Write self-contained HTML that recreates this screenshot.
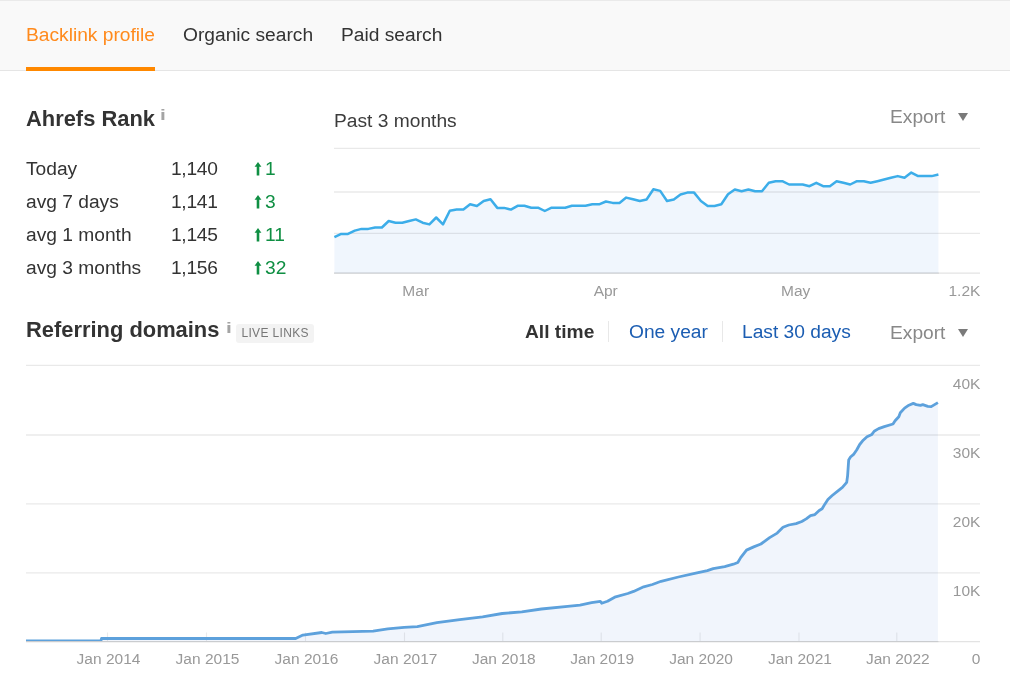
<!DOCTYPE html>
<html><head><meta charset="utf-8"><title>Overview</title>
<style>
html,body{margin:0;padding:0;background:#fff;}
body{width:1010px;height:691px;position:relative;overflow:hidden;font-family:"Liberation Sans",Arial,sans-serif;color:#333;}
.hdr{position:absolute;left:0;top:0;width:1010px;height:71px;background:#f9f9f9;border-top:1px solid #eaeaea;border-bottom:1px solid #e5e5e5;box-sizing:border-box;}
.tab{position:absolute;top:24px;font-size:19.2px;line-height:22px;color:#333;white-space:nowrap;}
.tab.on{color:#ff8a1c;}
.bar{position:absolute;left:26px;top:67px;width:129px;height:4px;background:#ff8800;}
.h{position:absolute;font-weight:bold;font-size:21.9px;line-height:26px;color:#333;white-space:nowrap;}
.i{position:absolute;font-weight:bold;font-size:15.5px;line-height:16px;color:#a4a4a4;transform:scaleX(1.35);transform-origin:0 0;}
.row{position:absolute;left:26px;font-size:19.2px;line-height:22px;color:#333;white-space:nowrap;}
.row span{position:absolute;top:0;}
.g{color:#0f8f43;}
.ar{position:absolute;left:228px;top:4px;width:8px;height:14px;}
.lbl{position:absolute;font-size:19.2px;line-height:22px;color:#3c3c3c;white-space:nowrap;}
.exp{position:absolute;font-size:19.2px;line-height:22px;color:#888;white-space:nowrap;}
.tri{position:absolute;width:0;height:0;border-left:5.4px solid transparent;border-right:5.4px solid transparent;border-top:8px solid #7a7a7a;}
.badge{position:absolute;left:236px;top:324px;width:78px;height:19px;background:#f3f3f3;border-radius:3px;font-size:12px;line-height:19px;color:#777;text-align:center;letter-spacing:0.35px;text-indent:0.35px;}
.rng{position:absolute;top:321px;font-size:19.2px;line-height:22px;white-space:nowrap;}
.sep{position:absolute;top:321px;width:1.2px;height:21px;background:#e8e8e8;}
svg{position:absolute;left:0;top:0;}
svg text{font-family:"Liberation Sans",Arial,sans-serif;font-size:15.5px;fill:#999;}
</style></head><body>
<div class="hdr"></div>
<div class="tab on" style="left:26px">Backlink profile</div>
<div class="tab" style="left:183px">Organic search</div>
<div class="tab" style="left:341px">Paid search</div>
<div class="bar"></div>

<div class="h" style="left:26px;top:106px">Ahrefs Rank</div>
<div class="i" style="left:160px;top:107px">i</div>
<div class="row" style="top:158px"><span style="left:0">Today</span><span style="left:145px;letter-spacing:-0.3px">1,140</span><svg class="ar" viewBox="0 0 8 14" style="position:absolute"><path d="M4,0 L7.4,4.8 L5.3,4.8 L5.3,13.6 L2.7,13.6 L2.7,4.8 L0.6,4.8 Z" fill="#0f8f43"/></svg><span class="g" style="left:239px">1</span></div>
<div class="row" style="top:191px"><span style="left:0">avg 7 days</span><span style="left:145px;letter-spacing:-0.3px">1,141</span><svg class="ar" viewBox="0 0 8 14" style="position:absolute"><path d="M4,0 L7.4,4.8 L5.3,4.8 L5.3,13.6 L2.7,13.6 L2.7,4.8 L0.6,4.8 Z" fill="#0f8f43"/></svg><span class="g" style="left:239px">3</span></div>
<div class="row" style="top:224px"><span style="left:0">avg 1 month</span><span style="left:145px;letter-spacing:-0.3px">1,145</span><svg class="ar" viewBox="0 0 8 14" style="position:absolute"><path d="M4,0 L7.4,4.8 L5.3,4.8 L5.3,13.6 L2.7,13.6 L2.7,4.8 L0.6,4.8 Z" fill="#0f8f43"/></svg><span class="g" style="left:239px">11</span></div>
<div class="row" style="top:257px"><span style="left:0">avg 3 months</span><span style="left:145px;letter-spacing:-0.3px">1,156</span><svg class="ar" viewBox="0 0 8 14" style="position:absolute"><path d="M4,0 L7.4,4.8 L5.3,4.8 L5.3,13.6 L2.7,13.6 L2.7,4.8 L0.6,4.8 Z" fill="#0f8f43"/></svg><span class="g" style="left:239px">32</span></div>

<div class="lbl" style="left:334px;top:110px">Past 3 months</div>
<div class="exp" style="left:890px;top:106px">Export</div>
<div class="tri" style="left:958.2px;top:113px"></div>

<div class="h" style="left:26px;top:317px">Referring domains</div>
<div class="i" style="left:225.5px;top:320px">i</div>
<div class="badge">LIVE LINKS</div>
<div class="rng" style="left:525px;font-weight:bold;color:#333">All time</div>
<div class="sep" style="left:607.8px"></div>
<div class="rng" style="left:629px;color:#1b5db2">One year</div>
<div class="sep" style="left:721.6px"></div>
<div class="rng" style="left:742px;color:#1b5db2">Last 30 days</div>
<div class="exp" style="left:890px;top:322px">Export</div>
<div class="tri" style="left:958.2px;top:329px"></div>

<svg width="1010" height="691" viewBox="0 0 1010 691">
<path d="M334.4,237.1 L341.2,233.9 L348.0,233.9 L354.8,230.6 L361.5,228.9 L368.3,228.9 L375.1,227.5 L381.9,227.5 L388.7,221.0 L395.5,222.7 L402.3,222.7 L409.1,221.0 L415.8,219.4 L422.6,222.7 L429.4,224.4 L436.2,217.5 L443.0,224.4 L449.8,210.8 L456.6,209.6 L463.4,209.6 L470.1,204.3 L476.9,206.0 L483.7,201.0 L490.5,199.3 L497.3,207.9 L504.1,207.9 L510.9,209.6 L517.6,205.8 L524.4,205.8 L531.2,207.7 L538.0,207.7 L544.8,211.0 L551.6,207.7 L558.4,207.7 L565.2,207.7 L571.9,205.8 L578.7,205.8 L585.5,205.8 L592.3,204.3 L599.1,204.3 L605.9,201.5 L612.7,202.9 L619.5,202.9 L626.2,197.6 L633.0,199.3 L639.8,201.0 L646.6,199.5 L653.4,189.3 L660.2,190.9 L667.0,201.0 L673.8,199.5 L680.5,194.5 L687.3,192.6 L694.1,192.6 L700.9,201.0 L707.7,206.0 L714.5,206.0 L721.3,204.3 L728.0,194.3 L734.8,189.5 L741.6,191.2 L748.4,189.5 L755.2,191.2 L762.0,191.2 L768.8,182.8 L775.6,181.2 L782.3,181.2 L789.1,184.5 L795.9,184.5 L802.7,184.5 L809.5,186.2 L816.3,182.8 L823.1,186.2 L829.9,186.2 L836.6,181.2 L843.4,182.8 L850.2,184.5 L857.0,181.2 L863.8,181.2 L870.6,182.8 L877.4,181.2 L884.1,179.5 L890.9,177.8 L897.7,176.1 L904.5,177.8 L911.3,172.6 L918.1,176.1 L924.9,176.1 L931.7,176.1 L938.4,174.5 L938.4,273.2 L334.4,273.2 Z" fill="#f0f6fd"/>
<g stroke="#000" stroke-opacity="0.085" stroke-width="1.3">
<line x1="334" y1="148.3" x2="980" y2="148.3"/>
<line x1="334" y1="192" x2="980" y2="192"/>
<line x1="334" y1="233.4" x2="980" y2="233.4"/>
<line x1="334" y1="273.2" x2="980" y2="273.2" stroke-opacity="0.11"/>
<line x1="334" y1="273.2" x2="939" y2="273.2" stroke-opacity="0.08"/>
</g>
<path d="M334.4,237.1 L341.2,233.9 L348.0,233.9 L354.8,230.6 L361.5,228.9 L368.3,228.9 L375.1,227.5 L381.9,227.5 L388.7,221.0 L395.5,222.7 L402.3,222.7 L409.1,221.0 L415.8,219.4 L422.6,222.7 L429.4,224.4 L436.2,217.5 L443.0,224.4 L449.8,210.8 L456.6,209.6 L463.4,209.6 L470.1,204.3 L476.9,206.0 L483.7,201.0 L490.5,199.3 L497.3,207.9 L504.1,207.9 L510.9,209.6 L517.6,205.8 L524.4,205.8 L531.2,207.7 L538.0,207.7 L544.8,211.0 L551.6,207.7 L558.4,207.7 L565.2,207.7 L571.9,205.8 L578.7,205.8 L585.5,205.8 L592.3,204.3 L599.1,204.3 L605.9,201.5 L612.7,202.9 L619.5,202.9 L626.2,197.6 L633.0,199.3 L639.8,201.0 L646.6,199.5 L653.4,189.3 L660.2,190.9 L667.0,201.0 L673.8,199.5 L680.5,194.5 L687.3,192.6 L694.1,192.6 L700.9,201.0 L707.7,206.0 L714.5,206.0 L721.3,204.3 L728.0,194.3 L734.8,189.5 L741.6,191.2 L748.4,189.5 L755.2,191.2 L762.0,191.2 L768.8,182.8 L775.6,181.2 L782.3,181.2 L789.1,184.5 L795.9,184.5 L802.7,184.5 L809.5,186.2 L816.3,182.8 L823.1,186.2 L829.9,186.2 L836.6,181.2 L843.4,182.8 L850.2,184.5 L857.0,181.2 L863.8,181.2 L870.6,182.8 L877.4,181.2 L884.1,179.5 L890.9,177.8 L897.7,176.1 L904.5,177.8 L911.3,172.6 L918.1,176.1 L924.9,176.1 L931.7,176.1 L938.4,174.5" fill="none" stroke="#3cade9" stroke-width="2.5" stroke-linejoin="round" stroke-linecap="butt"/>
<text x="415.7" y="296" text-anchor="middle">Mar</text>
<text x="605.7" y="296" text-anchor="middle">Apr</text>
<text x="795.7" y="296" text-anchor="middle">May</text>
<text x="980.4" y="296" text-anchor="end">1.2K</text>

<path d="M26.0,640.9 L100.9,640.9 L101.5,638.5 L280.0,638.5 L295.7,638.5 L302.9,635.1 L321.8,632.5 L325.8,633.5 L332.3,632.2 L373.1,631.2 L387.8,628.9 L404.2,627.3 L417.3,626.6 L436.9,622.7 L459.7,619.7 L482.6,616.8 L502.2,613.5 L521.8,611.9 L541.4,609.0 L567.6,606.3 L580.0,605.1 L591.6,602.7 L600.3,601.3 L601.7,603.3 L607.5,601.3 L614.7,597.2 L627.8,593.5 L633.6,591.4 L643.7,586.8 L652.4,584.5 L661.1,581.3 L678.4,577.0 L695.8,573.2 L707.4,570.6 L713.2,568.6 L724.7,566.6 L733.4,564.2 L737.8,562.5 L740.7,557.6 L746.5,550.1 L753.7,546.9 L760.9,544.0 L769.6,537.6 L777.2,533.1 L783.0,527.3 L788.8,525.0 L796.1,523.6 L801.8,521.5 L806.2,518.9 L810.5,515.7 L814.9,514.6 L819.2,510.5 L822.1,508.8 L825.0,503.9 L827.9,499.5 L832.2,495.5 L838.0,490.8 L842.4,487.4 L846.7,482.4 L847.6,475.8 L848.7,459.9 L850.5,457.0 L853.9,454.1 L856.8,449.7 L859.7,444.5 L863.2,440.2 L867.0,436.7 L871.9,434.4 L874.2,431.2 L878.6,428.6 L884.3,426.6 L893.0,424.0 L895.1,420.8 L898.8,416.7 L900.3,412.7 L904.6,408.1 L908.9,405.2 L913.3,403.4 L916.2,404.6 L920.5,405.4 L922.8,404.6 L927.8,406.3 L931.2,406.6 L937.9,402.6 L937.9,641.6 L26.0,641.6 Z" fill="#f1f5fc"/>
<g stroke="#000" stroke-opacity="0.085" stroke-width="1.3">
<line x1="26" y1="365.3" x2="980" y2="365.3"/>
<line x1="26" y1="435" x2="980" y2="435"/>
<line x1="26" y1="503.9" x2="980" y2="503.9"/>
<line x1="26" y1="572.9" x2="980" y2="572.9"/>
<line x1="26" y1="641.7" x2="980" y2="641.7" stroke-opacity="0.11"/>
<line x1="26" y1="641.7" x2="938.5" y2="641.7" stroke-opacity="0.08"/>
</g>
<line x1="107.5" y1="632.5" x2="107.5" y2="641" stroke="#000" stroke-opacity="0.08" stroke-width="1.1"/><line x1="206.5" y1="632.5" x2="206.5" y2="641" stroke="#000" stroke-opacity="0.08" stroke-width="1.1"/><line x1="305.5" y1="632.5" x2="305.5" y2="641" stroke="#000" stroke-opacity="0.08" stroke-width="1.1"/><line x1="404.5" y1="632.5" x2="404.5" y2="641" stroke="#000" stroke-opacity="0.08" stroke-width="1.1"/><line x1="502.8" y1="632.5" x2="502.8" y2="641" stroke="#000" stroke-opacity="0.08" stroke-width="1.1"/><line x1="601.2" y1="632.5" x2="601.2" y2="641" stroke="#000" stroke-opacity="0.08" stroke-width="1.1"/><line x1="700.1" y1="632.5" x2="700.1" y2="641" stroke="#000" stroke-opacity="0.08" stroke-width="1.1"/><line x1="799.0" y1="632.5" x2="799.0" y2="641" stroke="#000" stroke-opacity="0.08" stroke-width="1.1"/><line x1="896.8" y1="632.5" x2="896.8" y2="641" stroke="#000" stroke-opacity="0.08" stroke-width="1.1"/>
<clipPath id="cp2"><rect x="20" y="350" width="970" height="291.1"/></clipPath>
<path clip-path="url(#cp2)" d="M26.0,640.9 L100.9,640.9 L101.5,638.5 L280.0,638.5 L295.7,638.5 L302.9,635.1 L321.8,632.5 L325.8,633.5 L332.3,632.2 L373.1,631.2 L387.8,628.9 L404.2,627.3 L417.3,626.6 L436.9,622.7 L459.7,619.7 L482.6,616.8 L502.2,613.5 L521.8,611.9 L541.4,609.0 L567.6,606.3 L580.0,605.1 L591.6,602.7 L600.3,601.3 L601.7,603.3 L607.5,601.3 L614.7,597.2 L627.8,593.5 L633.6,591.4 L643.7,586.8 L652.4,584.5 L661.1,581.3 L678.4,577.0 L695.8,573.2 L707.4,570.6 L713.2,568.6 L724.7,566.6 L733.4,564.2 L737.8,562.5 L740.7,557.6 L746.5,550.1 L753.7,546.9 L760.9,544.0 L769.6,537.6 L777.2,533.1 L783.0,527.3 L788.8,525.0 L796.1,523.6 L801.8,521.5 L806.2,518.9 L810.5,515.7 L814.9,514.6 L819.2,510.5 L822.1,508.8 L825.0,503.9 L827.9,499.5 L832.2,495.5 L838.0,490.8 L842.4,487.4 L846.7,482.4 L847.6,475.8 L848.7,459.9 L850.5,457.0 L853.9,454.1 L856.8,449.7 L859.7,444.5 L863.2,440.2 L867.0,436.7 L871.9,434.4 L874.2,431.2 L878.6,428.6 L884.3,426.6 L893.0,424.0 L895.1,420.8 L898.8,416.7 L900.3,412.7 L904.6,408.1 L908.9,405.2 L913.3,403.4 L916.2,404.6 L920.5,405.4 L922.8,404.6 L927.8,406.3 L931.2,406.6 L937.9,402.6" fill="none" stroke="#5da1dc" stroke-width="2.8" stroke-linejoin="round" stroke-linecap="butt"/>
<text x="108.5" y="664" text-anchor="middle">Jan 2014</text><text x="207.5" y="664" text-anchor="middle">Jan 2015</text><text x="306.5" y="664" text-anchor="middle">Jan 2016</text><text x="405.5" y="664" text-anchor="middle">Jan 2017</text><text x="503.8" y="664" text-anchor="middle">Jan 2018</text><text x="602.2" y="664" text-anchor="middle">Jan 2019</text><text x="701.1" y="664" text-anchor="middle">Jan 2020</text><text x="800.0" y="664" text-anchor="middle">Jan 2021</text><text x="897.8" y="664" text-anchor="middle">Jan 2022</text>
<text x="980.4" y="389" text-anchor="end">40K</text>
<text x="980.4" y="458" text-anchor="end">30K</text>
<text x="980.4" y="527" text-anchor="end">20K</text>
<text x="980.4" y="596" text-anchor="end">10K</text>
<text x="980.4" y="664" text-anchor="end">0</text>
</svg>
</body></html>
